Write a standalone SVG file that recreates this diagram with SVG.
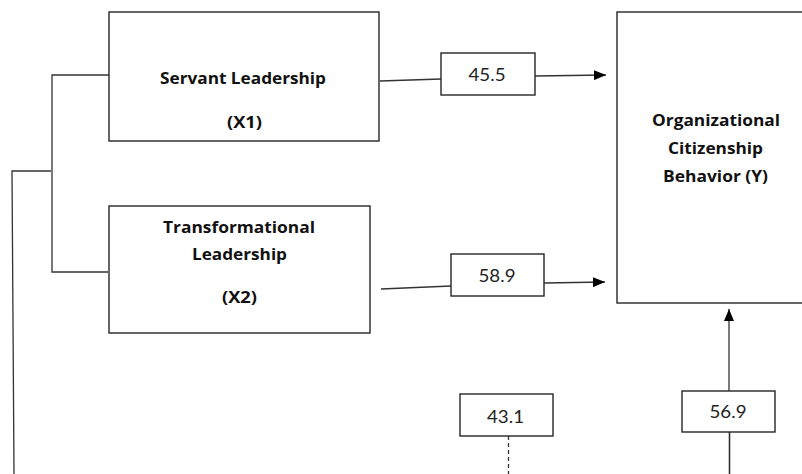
<svg xmlns="http://www.w3.org/2000/svg" width="802" height="474" viewBox="0 0 802 474">
<style>
.box{fill:#fff;stroke:#262626;stroke-width:1.4}
.ln{fill:none;stroke:#333;stroke-width:1.3}
.t{font-family:"Open Sans",Lato,"Liberation Sans",sans-serif;font-weight:bold;font-size:16px;fill:#111;text-anchor:middle}
.n{font-family:Lato,"Open Sans","Liberation Sans",sans-serif;font-size:17px;fill:#222;text-anchor:middle}
</style>
<defs>
<marker id="ah" markerWidth="12" markerHeight="10" refX="12" refY="5" orient="auto" markerUnits="userSpaceOnUse">
<path d="M0,0 L12,5 L0,10 Z" fill="#000"/>
</marker>
</defs>
<rect width="802" height="474" fill="#fff"/>
<g id="connectors">
<polyline class="ln" points="109,75 52,75 52,272 108,272"/>
<polyline class="ln" points="51,171 12,171 14,474"/>
<line class="ln" x1="380" y1="81" x2="441" y2="79"/>
<line class="ln" x1="535" y1="76" x2="606" y2="75" marker-end="url(#ah)"/>
<line class="ln" x1="381" y1="289" x2="451" y2="286"/>
<line class="ln" x1="544" y1="283" x2="605" y2="282" marker-end="url(#ah)"/>
<line class="ln" x1="729" y1="391" x2="729" y2="309" marker-end="url(#ah)"/>
<line class="ln" x1="729.5" y1="432" x2="729.5" y2="474" style="stroke-width:1.6"/>
<line class="ln" x1="508.5" y1="436" x2="508.5" y2="474" stroke-dasharray="4,3"/>
</g>
<g id="servant">
<rect class="box" x="109" y="12" width="270" height="129"/>
<text class="t" x="243" y="84" textLength="166" lengthAdjust="spacingAndGlyphs">Servant Leadership</text>
<text class="t" x="244.5" y="128" textLength="35" lengthAdjust="spacingAndGlyphs">(X1)</text>
</g>
<g id="transformational">
<rect class="box" x="109" y="206" width="261" height="127"/>
<text class="t" x="239" y="233" textLength="152" lengthAdjust="spacingAndGlyphs">Transformational</text>
<text class="t" x="239.5" y="260" textLength="95" lengthAdjust="spacingAndGlyphs">Leadership</text>
<text class="t" x="239.5" y="303" textLength="35" lengthAdjust="spacingAndGlyphs">(X2)</text>
</g>
<g id="ocb">
<rect class="box" x="617" y="12" width="200" height="291"/>
<text class="t" x="716" y="126" textLength="128" lengthAdjust="spacingAndGlyphs">Organizational</text>
<text class="t" x="715.5" y="154" textLength="95" lengthAdjust="spacingAndGlyphs">Citizenship</text>
<text class="t" x="715.5" y="182" textLength="105" lengthAdjust="spacingAndGlyphs">Behavior (Y)</text>
</g>
<g id="v45">
<rect class="box" x="441" y="53" width="94" height="42"/>
<text class="n" x="487" y="81" textLength="37" lengthAdjust="spacingAndGlyphs">45.5</text>
</g>
<g id="v58">
<rect class="box" x="451" y="254" width="93" height="42"/>
<text class="n" x="497" y="282" textLength="37" lengthAdjust="spacingAndGlyphs">58.9</text>
</g>
<g id="v43">
<rect class="box" x="460" y="394" width="93" height="42"/>
<text class="n" x="505.5" y="423" textLength="37" lengthAdjust="spacingAndGlyphs">43.1</text>
</g>
<g id="v56">
<rect class="box" x="682" y="391" width="93" height="41"/>
<text class="n" x="728" y="418" textLength="37" lengthAdjust="spacingAndGlyphs">56.9</text>
</g>
</svg>
